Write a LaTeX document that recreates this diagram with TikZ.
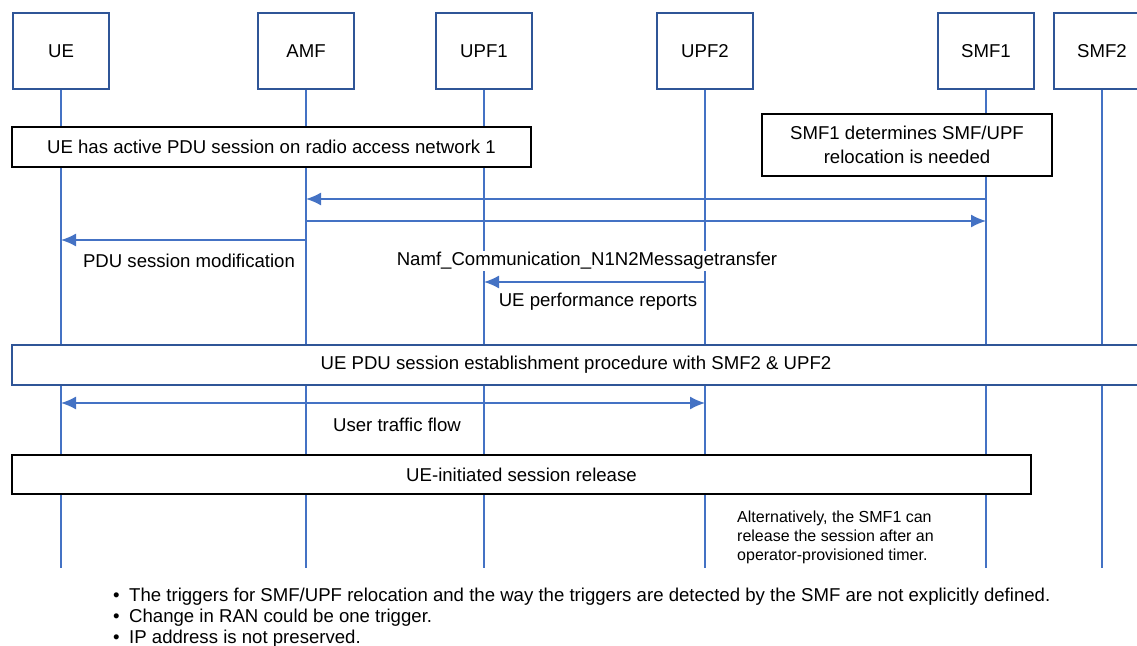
\documentclass[tikz,border=0pt]{standalone}
\usepackage{fontspec}
\setmainfont{Liberation Sans}
\usetikzlibrary{arrows.meta}

\definecolor{lineblue}{HTML}{4472C4}
\definecolor{boxblue}{HTML}{2F5597}

\tikzset{
    actor/.style={draw=boxblue, line width=2pt, fill=white, minimum width=96pt, minimum height=76pt},
    lifeline/.style={draw=lineblue, line width=1.5pt},
    msg/.style={draw=lineblue, line width=1.5pt, ->},
    notebox/.style={draw=black, line width=1.2pt, fill=white, align=center, inner sep=0pt},
    procbox/.style={draw=boxblue, line width=1.5pt, fill=white, inner sep=0pt},
    lbl/.style={inner sep=1pt},
    remark/.style={anchor=base west, inner sep=0pt},
}

\begin{document}
\begin{tikzpicture}[x=1pt, y=-1pt, >={Latex[length=15pt,width=13pt]},
    font=\fontsize{18.6}{24}\selectfont]

    \useasboundingbox (0,0) rectangle (1137,645);
    \clip (0,0) rectangle (1137,645);

    \foreach \name/\x/\txt in {ue/61/UE, amf/306/AMF, upf1/484/UPF1, upf2/705/UPF2, smf1/986/SMF1, smf2/1102/SMF2}
        \node[actor] (\name) at (\x, 51) {\txt};

    \foreach \name in {ue, amf, upf1, upf2, smf1, smf2}
        \draw[lifeline] (\name.south) -- (\name |- 0,568);

    % notes over the lifelines
    \node[notebox, minimum width=519pt, minimum height=40pt] (active) at (271.5, 147) {UE has active PDU session on radio access network 1};
    \node[notebox, minimum width=290pt, minimum height=62pt] (decide) at (907, 145) {SMF1 determines SMF/UPF\\relocation is needed};

    \draw[msg] (smf1 |- 0,199) -- (amf |- 0,199);
    \draw[msg] (amf |- 0,221) -- (smf1 |- 0,221);
    \draw[msg] (amf |- 0,240) -- (ue |- 0,240);
    \node[lbl] (modif) at (189, 261) {PDU session modification};
    \node[lbl, fill=white] (namf) at (587, 261) {Namf\_Communication\_N1N2Messagetransfer};

    \draw[msg] (upf2 |- 0,282) -- (upf1 |- 0,282);
    \node[lbl] (perf) at (598, 302) {UE performance reports};

    \node[procbox, minimum width=1128pt, minimum height=40pt] (estab) at (576, 365) {UE PDU session establishment procedure with SMF2 \& UPF2};

    \draw[msg, <->] (ue |- 0,403) -- (upf2 |- 0,403);
    \node[lbl] (traffic) at (397, 425) {User traffic flow};

    \node[notebox, minimum width=1019pt, minimum height=39pt] (release) at (521.5, 474.5) {UE-initiated session release};

    \node[lbl, anchor=west, align=left, font=\fontsize{16}{19}\selectfont] (alt) at (736, 537) {Alternatively, the SMF1 can\\release the session after an\\operator-provisioned timer.};

    % remarks below the chart
    \node[remark] (trig) at (113, 601) {\makebox[16pt][l]{•}The triggers for SMF/UPF relocation and the way the triggers are detected by the SMF are not explicitly defined.};
    \node[remark] (ran) at (113, 622) {\makebox[16pt][l]{•}Change in RAN could be one trigger.};
    \node[remark] (ip) at (113, 643) {\makebox[16pt][l]{•}IP address is not preserved.};

\end{tikzpicture}
\end{document}
